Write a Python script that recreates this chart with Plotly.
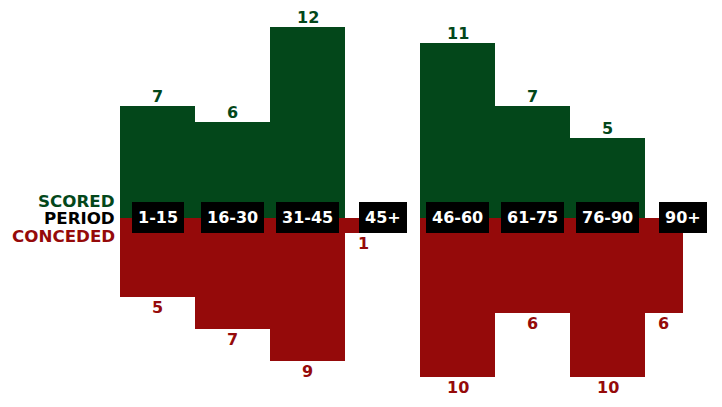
import plotly.graph_objects as go

periods = ["1-15", "16-30", "31-45", "45+", "46-60", "61-75", "76-90", "90+"]
scored = [7, 6, 12, 0, 11, 7, 5, 0]
conceded = [5, 7, 9, 1, 10, 6, 10, 6]

GREEN = "#03471A"
RED = "#950A0A"
FONT = "DejaVu Sans"

slot = list(range(len(periods)))
is_extra = [p.endswith("+") for p in periods]
bar_x = [s - 0.25 if e else s for s, e in zip(slot, is_extra)]
bar_w = [0.5 if e else 1.0 for e in is_extra]

fig = go.Figure()
fig.add_trace(go.Bar(
    x=bar_x, y=scored, width=bar_w, marker=dict(color=GREEN, line=dict(width=0)),
    hoverinfo="skip", name="Scored"))
fig.add_trace(go.Bar(
    x=bar_x, y=[-v for v in conceded], width=bar_w, marker=dict(color=RED, line=dict(width=0)),
    hoverinfo="skip", name="Conceded"))

annotations = []
for bx, v in zip(bar_x, scored):
    if v:
        annotations.append(dict(
            x=bx, y=v, xref="x", yref="y", text="<b>%d</b>" % v, showarrow=False,
            font=dict(family=FONT, size=16, color=GREEN), xanchor="center",
            yanchor="bottom", yshift=-2))
for bx, v in zip(bar_x, conceded):
    if v:
        annotations.append(dict(
            x=bx, y=-v, xref="x", yref="y", text="<b>%d</b>" % v, showarrow=False,
            font=dict(family=FONT, size=16, color=RED), xanchor="center",
            yanchor="top", yshift=1))

for s, p in zip(slot, periods):
    annotations.append(dict(
        x=s, y=0, xref="x", yref="y", text="<b>%s</b>" % p, showarrow=False,
        font=dict(family=FONT, size=16, color="white"),
        bgcolor="black", borderpad=6, borderwidth=0, xanchor="center", yanchor="middle"))

for txt, col, dy in [("SCORED", GREEN, 17), ("PERIOD", "black", 0), ("CONCEDED", RED, -18)]:
    annotations.append(dict(
        x=-0.56, y=0, xref="x", yref="y", text="<b>%s</b>" % txt, showarrow=False,
        font=dict(family=FONT, size=16.7, color=col), xanchor="right", yanchor="middle",
        yshift=dy, borderpad=0))

fig.update_layout(
    width=722, height=407, margin=dict(l=0, r=0, t=0, b=0),
    paper_bgcolor="white", plot_bgcolor="white",
    showlegend=False, barmode="overlay", bargap=0,
    xaxis=dict(range=[-1.995, 7.632], visible=False, fixedrange=True),
    yaxis=dict(range=[-12.42, 13.18], visible=False, fixedrange=True),
    annotations=annotations,
)

fig.write_html("out.html")
